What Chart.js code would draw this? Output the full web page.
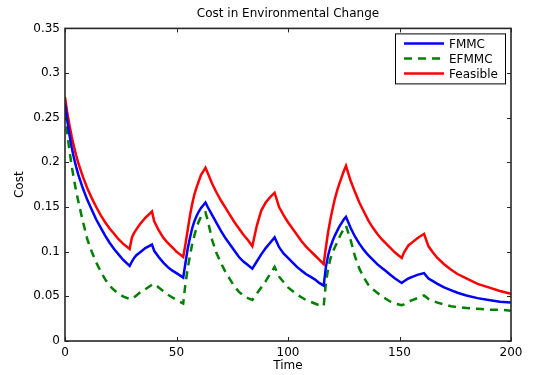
<!DOCTYPE html>
<html>
<head>
<meta charset="utf-8">
<script src="https://cdn.jsdelivr.net/npm/chart.js@4"></script>
<style>
  html, body { margin: 0; padding: 0; background: #fff; }
</style>
</head>
<body>
<canvas id="chart" width="535" height="375"></canvas>
<script>
// --- data ---
const timeSteps = [0, 1, 2, 3, 4, 5, 6, 8, 10, 12, 14, 16, 18, 20, 22, 24, 26, 29,
  30, 31, 32, 34, 36, 39,
  40, 42, 44, 46, 48, 50, 53,
  54, 55, 56, 57, 58, 59, 60, 61, 62, 63,
  64, 66, 68, 70, 72, 74, 76, 78, 80, 82, 84,
  86, 88, 90, 92, 94,
  96, 98, 100, 102, 104, 106, 108, 110, 112, 114, 116,
  117, 118, 119, 120, 121, 122, 123, 124, 125, 126,
  128, 130, 132, 134, 136, 138, 140, 142, 144, 146, 148, 151,
  152, 154, 156, 158, 161,
  163, 165, 167, 170, 173, 176, 180, 185, 190, 195, 200];

const fmmcCost = [0.266, 0.247, 0.231, 0.217, 0.205, 0.195, 0.186, 0.171, 0.158, 0.147, 0.136, 0.127, 0.118, 0.110, 0.103, 0.097, 0.091, 0.084,
  0.089, 0.093, 0.096, 0.100, 0.104, 0.108,
  0.101, 0.094, 0.088, 0.083, 0.079, 0.076, 0.071,
  0.087, 0.103, 0.115, 0.126, 0.134, 0.140, 0.145, 0.149, 0.152, 0.155,
  0.150, 0.141, 0.132, 0.123, 0.115, 0.108, 0.101, 0.094, 0.089, 0.085, 0.081,
  0.089, 0.097, 0.104, 0.110, 0.116,
  0.105, 0.098, 0.093, 0.088, 0.083, 0.079, 0.075, 0.072, 0.069, 0.065, 0.062,
  0.083, 0.096, 0.105, 0.112, 0.118, 0.123, 0.128, 0.132, 0.136, 0.139,
  0.127, 0.117, 0.109, 0.102, 0.096, 0.091, 0.086, 0.082, 0.078, 0.074, 0.070, 0.065,
  0.067, 0.070, 0.072, 0.074, 0.076,
  0.070, 0.067, 0.064, 0.060, 0.057, 0.054, 0.051, 0.048, 0.046, 0.044, 0.043];

const efmmcCost = [0.256, 0.233, 0.213, 0.196, 0.181, 0.168, 0.156, 0.134, 0.114, 0.100, 0.088, 0.078, 0.069, 0.062, 0.057, 0.053, 0.050, 0.047,
  0.047, 0.049, 0.051, 0.055, 0.058, 0.063,
  0.064, 0.060, 0.056, 0.052, 0.049, 0.046, 0.042,
  0.064, 0.081, 0.095, 0.108, 0.118, 0.127, 0.134, 0.139, 0.143, 0.144,
  0.135, 0.113, 0.098, 0.087, 0.077, 0.069, 0.061, 0.055, 0.051, 0.048, 0.046,
  0.053, 0.060, 0.067, 0.075, 0.083,
  0.072, 0.066, 0.060, 0.056, 0.052, 0.049, 0.046, 0.044, 0.042, 0.040, 0.039,
  0.065, 0.081, 0.092, 0.099, 0.105, 0.110, 0.116, 0.121, 0.125, 0.129,
  0.114, 0.095, 0.081, 0.071, 0.063, 0.058, 0.054, 0.050, 0.047, 0.044, 0.042, 0.040,
  0.041, 0.044, 0.046, 0.048, 0.051,
  0.047, 0.045, 0.043, 0.041, 0.039, 0.038, 0.037, 0.036, 0.035, 0.035, 0.034];

const feasibleCost = [0.273, 0.256, 0.242, 0.229, 0.218, 0.208, 0.199, 0.184, 0.171, 0.160, 0.150, 0.141, 0.133, 0.126, 0.120, 0.114, 0.109, 0.103,
  0.116, 0.121, 0.125, 0.132, 0.138, 0.145,
  0.134, 0.124, 0.116, 0.110, 0.105, 0.100, 0.094,
  0.108, 0.124, 0.140, 0.153, 0.164, 0.172, 0.179, 0.186, 0.190, 0.194,
  0.188, 0.176, 0.166, 0.157, 0.149, 0.141, 0.133, 0.126, 0.119, 0.113, 0.106,
  0.129, 0.146, 0.155, 0.161, 0.166,
  0.150, 0.141, 0.133, 0.126, 0.119, 0.112, 0.106, 0.101, 0.096, 0.091, 0.086,
  0.105, 0.122, 0.136, 0.148, 0.159, 0.168, 0.176, 0.183, 0.190, 0.196,
  0.180, 0.167, 0.155, 0.145, 0.135, 0.127, 0.120, 0.114, 0.109, 0.104, 0.099, 0.093,
  0.099, 0.107, 0.111, 0.115, 0.120,
  0.106, 0.099, 0.093, 0.086, 0.080, 0.075, 0.070, 0.064, 0.060, 0.056, 0.053];

const seriesNames = ['FMMC', 'EFMMC', 'Feasible'];
const xTickValues = [0, 50, 100, 150, 200];
const yTickValues = [0, 0.05, 0.1, 0.15, 0.2, 0.25, 0.3, 0.35];

const FONT = '"DejaVu Sans", Helvetica, Arial, sans-serif';
const INK = '#262626';

function toPoints(values) {
  return timeSteps.map((t, i) => ({ x: t, y: values[i] }));
}

// MATLAB style box with inward ticks on all four sides
const boxPlugin = {
  id: 'matlabBox',
  afterDatasetsDraw(chart) {
    const { ctx, chartArea: a, scales } = chart;
    ctx.save();
    ctx.strokeStyle = INK;
    ctx.lineWidth = 1;
    ctx.beginPath();
    xTickValues.forEach(v => {
      const px = Math.round(scales.x.getPixelForValue(v)) + 0.5;
      ctx.moveTo(px, a.bottom); ctx.lineTo(px, a.bottom - 4);
      ctx.moveTo(px, a.top); ctx.lineTo(px, a.top + 4);
    });
    yTickValues.forEach(v => {
      const py = Math.round(scales.y.getPixelForValue(v)) + 0.5;
      ctx.moveTo(a.left, py); ctx.lineTo(a.left + 4, py);
      ctx.moveTo(a.right, py); ctx.lineTo(a.right - 4, py);
    });
    ctx.stroke();
    ctx.lineWidth = 1.6;
    ctx.strokeRect(a.left, a.top, a.right - a.left, a.bottom - a.top);
    ctx.restore();
  }
};

// boxed legend in the upper right corner
const legendPlugin = {
  id: 'boxLegend',
  afterDraw(chart) {
    const { ctx, chartArea: a } = chart;
    const w = 110, h = 50;
    const x0 = a.right - 6 - w, y0 = a.top + 5;
    ctx.save();
    ctx.fillStyle = '#fff';
    ctx.fillRect(x0, y0, w, h);
    ctx.strokeStyle = '#000';
    ctx.lineWidth = 1;
    ctx.strokeRect(x0 + 0.5, y0 + 0.5, w, h);
    ctx.font = '12px ' + FONT;
    ctx.textBaseline = 'middle';
    chart.data.datasets.forEach((ds, i) => {
      const y = y0 + 10 + i * 15;
      ctx.strokeStyle = ds.borderColor;
      ctx.lineWidth = ds.borderWidth;
      ctx.setLineDash(ds.borderDash || []);
      ctx.beginPath();
      ctx.moveTo(x0 + 9, y); ctx.lineTo(x0 + 49, y);
      ctx.stroke();
      ctx.setLineDash([]);
      ctx.fillStyle = '#000';
      ctx.fillText(ds.label, x0 + 54, y + 1);
    });
    ctx.restore();
  }
};

new Chart(document.getElementById('chart'), {
  type: 'line',
  data: {
    datasets: [
      { label: seriesNames[0], data: toPoints(fmmcCost), borderColor: '#0000ff', borderWidth: 2.5 },
      { label: seriesNames[1], data: toPoints(efmmcCost), borderColor: '#008000', borderWidth: 2.5, borderDash: [8, 6] },
      { label: seriesNames[2], data: toPoints(feasibleCost), borderColor: '#ff0000', borderWidth: 2.5 }
    ]
  },
  options: {
    responsive: false,
    animation: false,
    devicePixelRatio: 1,
    elements: { point: { radius: 0 }, line: { tension: 0, fill: false } },
    layout: { padding: { left: 0, right: 24, top: 0, bottom: 0 } },
    plugins: {
      legend: { display: false },
      tooltip: { enabled: false },
      title: {
        display: true,
        fullSize: false,
        text: 'Cost in Environmental Change',
        color: '#000',
        font: { family: FONT, size: 12, weight: 'normal' },
        padding: { top: 7, bottom: 7 }
      }
    },
    scales: {
      x: {
        type: 'linear',
        min: 0, max: 200,
        afterFit: s => { s.height = 34; },
        afterBuildTicks: s => { s.ticks = xTickValues.map(v => ({ value: v })); },
        grid: { display: false, drawTicks: false },
        border: { display: false },
        ticks: { color: '#000', padding: 5, maxRotation: 0, font: { family: FONT, size: 12 } },
        title: { display: true, text: 'Time', color: '#000', font: { family: FONT, size: 12 }, padding: { top: 0, bottom: 2 } }
      },
      y: {
        min: 0, max: 0.35,
        afterFit: s => { s.width = 65; },
        afterBuildTicks: s => { s.ticks = yTickValues.map(v => ({ value: v })); },
        grid: { display: false, drawTicks: false },
        border: { display: false },
        ticks: {
          color: '#000', padding: 5, font: { family: FONT, size: 12 },
          callback: v => String(Number(v.toFixed(2)))
        },
        title: { display: true, text: 'Cost', color: '#000', font: { family: FONT, size: 12 }, padding: { top: 13, bottom: 0 } }
      }
    }
  },
  plugins: [boxPlugin, legendPlugin]
});
</script>
</body>
</html>
